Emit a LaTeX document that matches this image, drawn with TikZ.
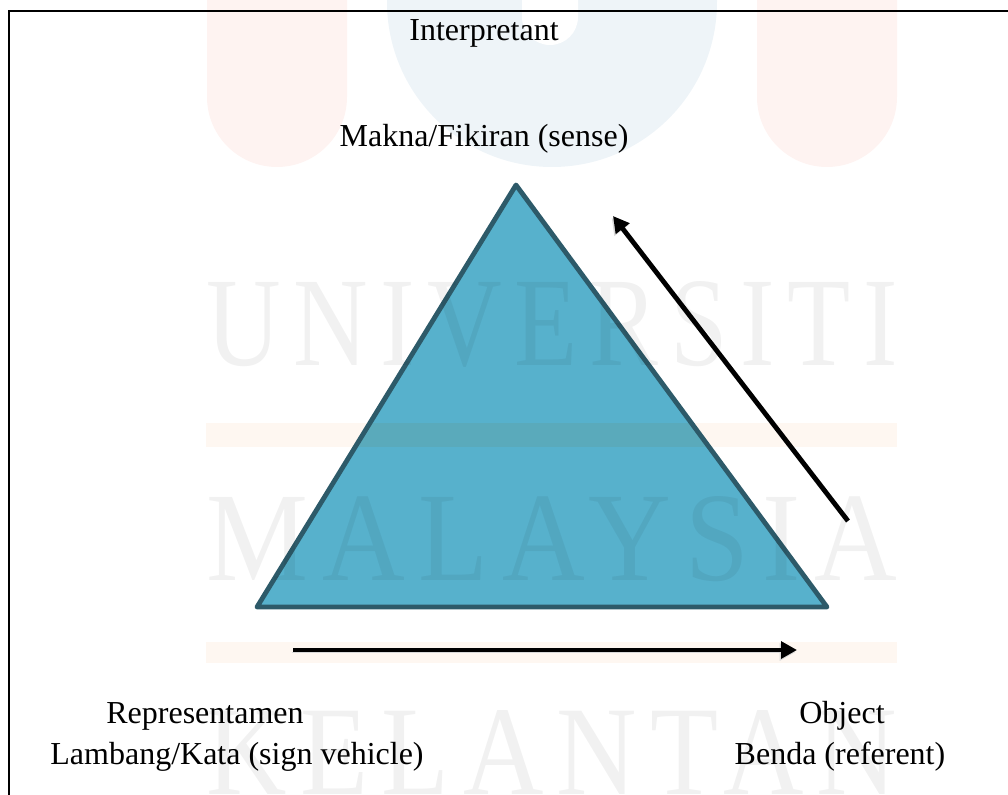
\documentclass[tikz,border=0pt]{standalone}
\usepackage{fontspec}
\setmainfont{Liberation Serif}
\usetikzlibrary{calc, positioning, arrows.meta}
\definecolor{mytriangle}{RGB}{87,177,204}
\definecolor{myedge}{RGB}{45,90,105}
\definecolor{myband}{RGB}{90,170,187}
\definecolor{mypeach}{RGB}{254,247,241}
\definecolor{mypink}{RGB}{254,243,241}
\definecolor{mypale}{RGB}{238,244,248}
\newcommand{\marktext}[1]{\resizebox{518pt}{63pt}{\addfontfeature{LetterSpace=12}#1}}
\tikzset{
  textnode/.style = {font=\fontsize{24}{28}\selectfont, align=center, inner sep=0pt, anchor=base},
  marknode/.style = {text=black, text opacity=0.055, inner sep=0pt, anchor=base},
  flow/.style = {line width=3.6pt, -{Triangle[length=12pt, width=12.5pt]}, black,
                 preaction={draw=black!15, transform canvas={xshift=-1pt, yshift=-1.5pt}}}
}
\begin{document}
\begin{tikzpicture}[x=0.75pt, y=-0.75pt]
  \useasboundingbox (0,0) rectangle (1008,795);
  % watermark
  \fill [mypink] (207,0) -- (347,0) -- (347,97) arc [start angle=0, end angle=180, radius=70] -- cycle;
  \fill [mypink] (757,0) -- (897,0) -- (897,97) arc [start angle=0, end angle=180, radius=70] -- cycle;
  \fill [mypale] (387,0) -- (717,0) -- (717,2) arc [start angle=0, end angle=180, radius=165] -- cycle;
  \fill [white] (522,0) -- (578,0) -- (578,17) arc [start angle=0, end angle=180, radius=28] -- cycle;
  \fill [mypeach] (206,423) rectangle (897,447);
  \fill [mypeach] (206,642) rectangle (897,663);
  % frame
  \draw [line width=2pt] (9,800) -- (9,11) -- (1010,11);
  % triangle
  \coordinate (top) at (516,185);
  \coordinate (left) at (257,607);
  \coordinate (right) at (827,607);
  \fill [mytriangle] (top) -- (left) -- (right) -- cycle;
  \begin{scope}
    \clip (top) -- (left) -- (right) -- cycle;
    \fill [myband] (206,423) rectangle (897,447);
  \end{scope}
  \draw [draw=myedge, line width=3.6pt, line join=round] (top) -- (left) -- (right) -- cycle;
  % watermark letters lie over the triangle
  \node [marknode] (uni) at (552,366) {\marktext{UNIVERSITI}};
  \node [marknode] (mal) at (552,580) {\marktext{MALAYSIA}};
  \node [marknode] (kel) at (552,794) {\marktext{KELANTAN}};
  % labels
  \node [textnode] (interp) at (484,41) {Interpretant};
  \node [textnode] (sense) at (484,147) {Makna/Fikiran (sense)};
  \node [textnode] (repr) at (205,723) {Representamen};
  \node [textnode] (sign) at (237,764) {Lambang/Kata (sign vehicle)};
  \node [textnode] (obj) at (842,723) {Object};
  \node [textnode] (ref) at (840,764) {Benda (referent)};
  % arrows
  \coordinate (a1) at (293,650);
  \coordinate (a2) at (797,650);
  \coordinate (b1) at (848,521);
  \coordinate (b2) at (613,216);
  \draw [flow] (a1) -- (a2);
  \draw [flow] (b1) -- (b2);
\end{tikzpicture}
\end{document}
